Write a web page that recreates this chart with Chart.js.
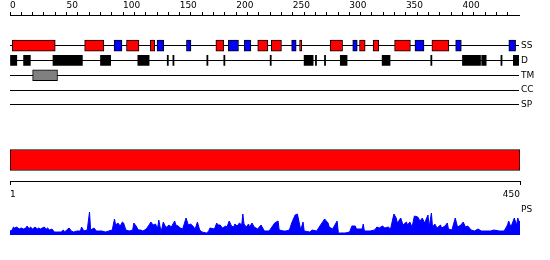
<!DOCTYPE html>
<html>
<head>
<meta charset="utf-8">
<title>Protein features</title>
<script src="https://cdn.jsdelivr.net/npm/chart.js@4.4.1/dist/chart.umd.min.js"></script>
<style>
  body { margin: 0; background: #fff; }
  canvas { position: absolute; left: 0; }
</style>
</head>
<body>
<canvas id="tracks" width="550" height="127" style="top:0px"></canvas>
<canvas id="seq" width="550" height="80" style="top:130px"></canvas>
<canvas id="ps" width="550" height="60" style="top:200px"></canvas>
<script>
// residue ranges [start, end]
var trackNames = ['SS', 'D', 'TM', 'CC', 'SP'];
var helix = [[2,40],[66,83],[103,114],[124,128],[182,189],[219,228],[231,240],[256,258],
             [283,294],[309,314],[321,326],[340,354],[373,388]];
var strand = [[92,99],[130,136],[156,160],[193,202],[207,213],[249,253],[303,307],
              [358,366],[394,399],[441,447]];
var disorder = [[0,6],[12,18],[38,64],[80,89],[113,123],[139,140],[144,145],[174,175],
                [189,190],[230,231],[260,268],[270,271],[278,279],[292,298],[329,336],
                [372,373],[400,416],[417,421],[434,435],[445,450]];
var tmRegion = [[20,42]];
var seqLength = 450;
var topTicks = [0,10,20,30,40,50,60,70,80,90,100,110,120,130,140,150,160,170,180,190,200,
                210,220,230,240,250,260,270,280,290,300,310,320,330,340,350,360,370,380,390,
                400,410,420,430,440];

// PS profile
var psPos = [1,3,4,5,7,9,11,13,15,16,18,19,21,23,25,26,28,31,33,34,36,38,40,42,46,48,49,53,55,57,
  60,63,64,66,69,71,72,75,77,79,82,85,88,91,93,94,96,98,100,101,103,106,109,110,112,114,116,118,
  121,124,125,127,129,131,132,134,136,138,139,141,143,146,147,149,151,153,156,158,160,162,164,166,
  168,170,174,176,177,181,183,184,186,188,191,192,194,196,198,199,201,203,205,206,207,209,211,212,
  214,216,219,222,225,229,231,234,237,238,242,244,247,249,252,254,257,259,260,265,267,271,275,278,
  281,282,285,289,290,291,296,300,302,305,306,311,312,313,318,322,324,326,329,331,334,336,339,341,
  342,345,347,350,351,353,355,357,360,362,364,366,369,370,372,373,375,377,380,381,384,386,387,390,
  393,395,398,400,402,404,407,410,413,416,419,424,427,432,436,439,440,442,445,447,448,449,450];
var psVal = [0.16,0.2,0.32,0.28,0.32,0.24,0.28,0.24,0.28,0.36,0.24,0.32,0.24,0.32,0.24,0.28,0.24,0.32,0.24,0.28,
  0.2,0.24,0.12,0.12,0.12,0.2,0.12,0.28,0.16,0.12,0.16,0.16,0.32,0.16,0.2,0.92,0.2,0.28,0.16,0.16,
  0.16,0.12,0.16,0.2,0.64,0.4,0.48,0.36,0.52,0.48,0.2,0.16,0.2,0.48,0.36,0.2,0.2,0.16,0.24,0.44,
  0.52,0.4,0.44,0.28,0.6,0.12,0.52,0.32,0.32,0.4,0.32,0.56,0.4,0.36,0.28,0.24,0.68,0.4,0.44,0.36,
  0.24,0.52,0.2,0.12,0.08,0.16,0.28,0.24,0.48,0.4,0.4,0.28,0.36,0.32,0.56,0.36,0.32,0.44,0.36,0.48,
  0.4,0.84,0.44,0.32,0.44,0.32,0.48,0.32,0.24,0.4,0.16,0.16,0.28,0.48,0.56,0.2,0.16,0.16,0.2,0.48,
  0.8,0.84,0.2,0.52,0.16,0.12,0.2,0.16,0.44,0.64,0.48,0.32,0.24,0.56,0.12,0.08,0.08,0.12,0.36,0.36,
  0.24,0.24,0.44,0.16,0.16,0.2,0.32,0.28,0.36,0.28,0.32,0.24,0.84,0.68,0.48,0.68,0.4,0.52,0.4,0.52,
  0.32,0.76,0.72,0.56,0.68,0.48,0.8,0.32,0.88,0.32,0.44,0.28,0.4,0.28,0.36,0.48,0.24,0.2,0.68,0.32,
  0.4,0.52,0.32,0.36,0.2,0.16,0.24,0.16,0.16,0.16,0.2,0.16,0.16,0.4,0.56,0.32,0.68,0.4,0.68,0.56,0.52];

Chart.defaults.font.family = 'DejaVu Sans';
Chart.defaults.font.size = 9;
Chart.defaults.color = '#000';

function seg(list, track) {
  return list.map(function (p) { return {x: p, y: track}; });
}

new Chart(document.getElementById('tracks'), {
  type: 'bar',
  data: {datasets: [
    {data: seg(helix, 0), backgroundColor: '#ff0000', borderColor: '#000', borderWidth: 1, barThickness: 11},
    {data: seg(strand, 0), backgroundColor: '#0000ff', borderColor: '#000', borderWidth: 1, barThickness: 11},
    {data: seg(disorder, 1), backgroundColor: '#000', borderWidth: 0, barThickness: 10},
    {data: seg(tmRegion, 2), backgroundColor: '#808080', borderColor: '#000', borderWidth: 1, barThickness: 11}
  ]},
  options: {
    indexAxis: 'y', responsive: false, animation: false,
    layout: {padding: {left: 10}},
    plugins: {legend: {display: false}, tooltip: {enabled: false}},
    datasets: {bar: {grouped: false, borderSkipped: false}},
    scales: {
      x: {type: 'linear', position: 'top', min: 0, max: seqLength,
          afterBuildTicks: function (a) { a.ticks = topTicks.map(function (v) { return {value: v}; }); },
          afterFit: function (a) { a.height = 15; },
          ticks: {autoSkip: false, maxRotation: 0, align: 'start', padding: 1,
                  callback: function (v) { return v % 50 === 0 ? v : ''; }},
          grid: {drawOnChartArea: false, tickLength: 3, color: '#000'},
          border: {color: '#000'}},
      y: {type: 'linear', position: 'right', min: -2.07, max: 5, reverse: true, offset: false,
          afterBuildTicks: function (a) { a.ticks = trackNames.map(function (n, i) { return {value: i}; }); },
          afterFit: function (a) { a.width = 31; },
          ticks: {padding: 2, callback: function (v) { return trackNames[v]; }},
          grid: {color: '#000', drawTicks: false, offset: false},
          border: {display: false}}
    }
  }
});

new Chart(document.getElementById('seq'), {
  type: 'bar',
  data: {labels: ['seq'], datasets: [
    {data: [[1, seqLength]], backgroundColor: '#ff0000', borderColor: '#000', borderWidth: 1,
     borderSkipped: false, barThickness: 21}
  ]},
  options: {
    indexAxis: 'y', responsive: false, animation: false,
    layout: {padding: {left: 10, right: 30, top: 9}},
    plugins: {legend: {display: false}, tooltip: {enabled: false}},
    scales: {
      x: {type: 'linear', min: 1, max: seqLength,
          afterBuildTicks: function (a) { a.ticks = [{value: 1}, {value: seqLength}]; },
          afterFit: function (a) { a.height = 29; },
          ticks: {autoSkip: false, maxRotation: 0, padding: 4, align: 'inner'},
          grid: {drawOnChartArea: false, tickLength: 4, color: '#000'},
          border: {color: '#000'}},
      y: {display: false}
    }
  }
});

new Chart(document.getElementById('ps'), {
  type: 'line',
  data: {datasets: [{
    data: psPos.map(function (p, i) { return {x: p, y: psVal[i]}; }),
    fill: 'origin', backgroundColor: '#0000ff', borderColor: '#0000ff', borderWidth: 1, pointRadius: 0
  }]},
  options: {
    responsive: false, animation: false,
    layout: {padding: {left: 10, top: 10, bottom: 25}},
    plugins: {legend: {display: false}, tooltip: {enabled: false}},
    scales: {
      x: {type: 'linear', min: 1, max: seqLength, display: false},
      y: {position: 'right', min: 0, max: 1,
          afterBuildTicks: function (a) { a.ticks = [{value: 1}]; },
          afterFit: function (a) { a.width = 30; },
          ticks: {padding: 1, callback: function () { return 'PS'; }},
          grid: {display: false, drawTicks: false},
          border: {display: false}}
    }
  }
});
</script>
</body>
</html>
